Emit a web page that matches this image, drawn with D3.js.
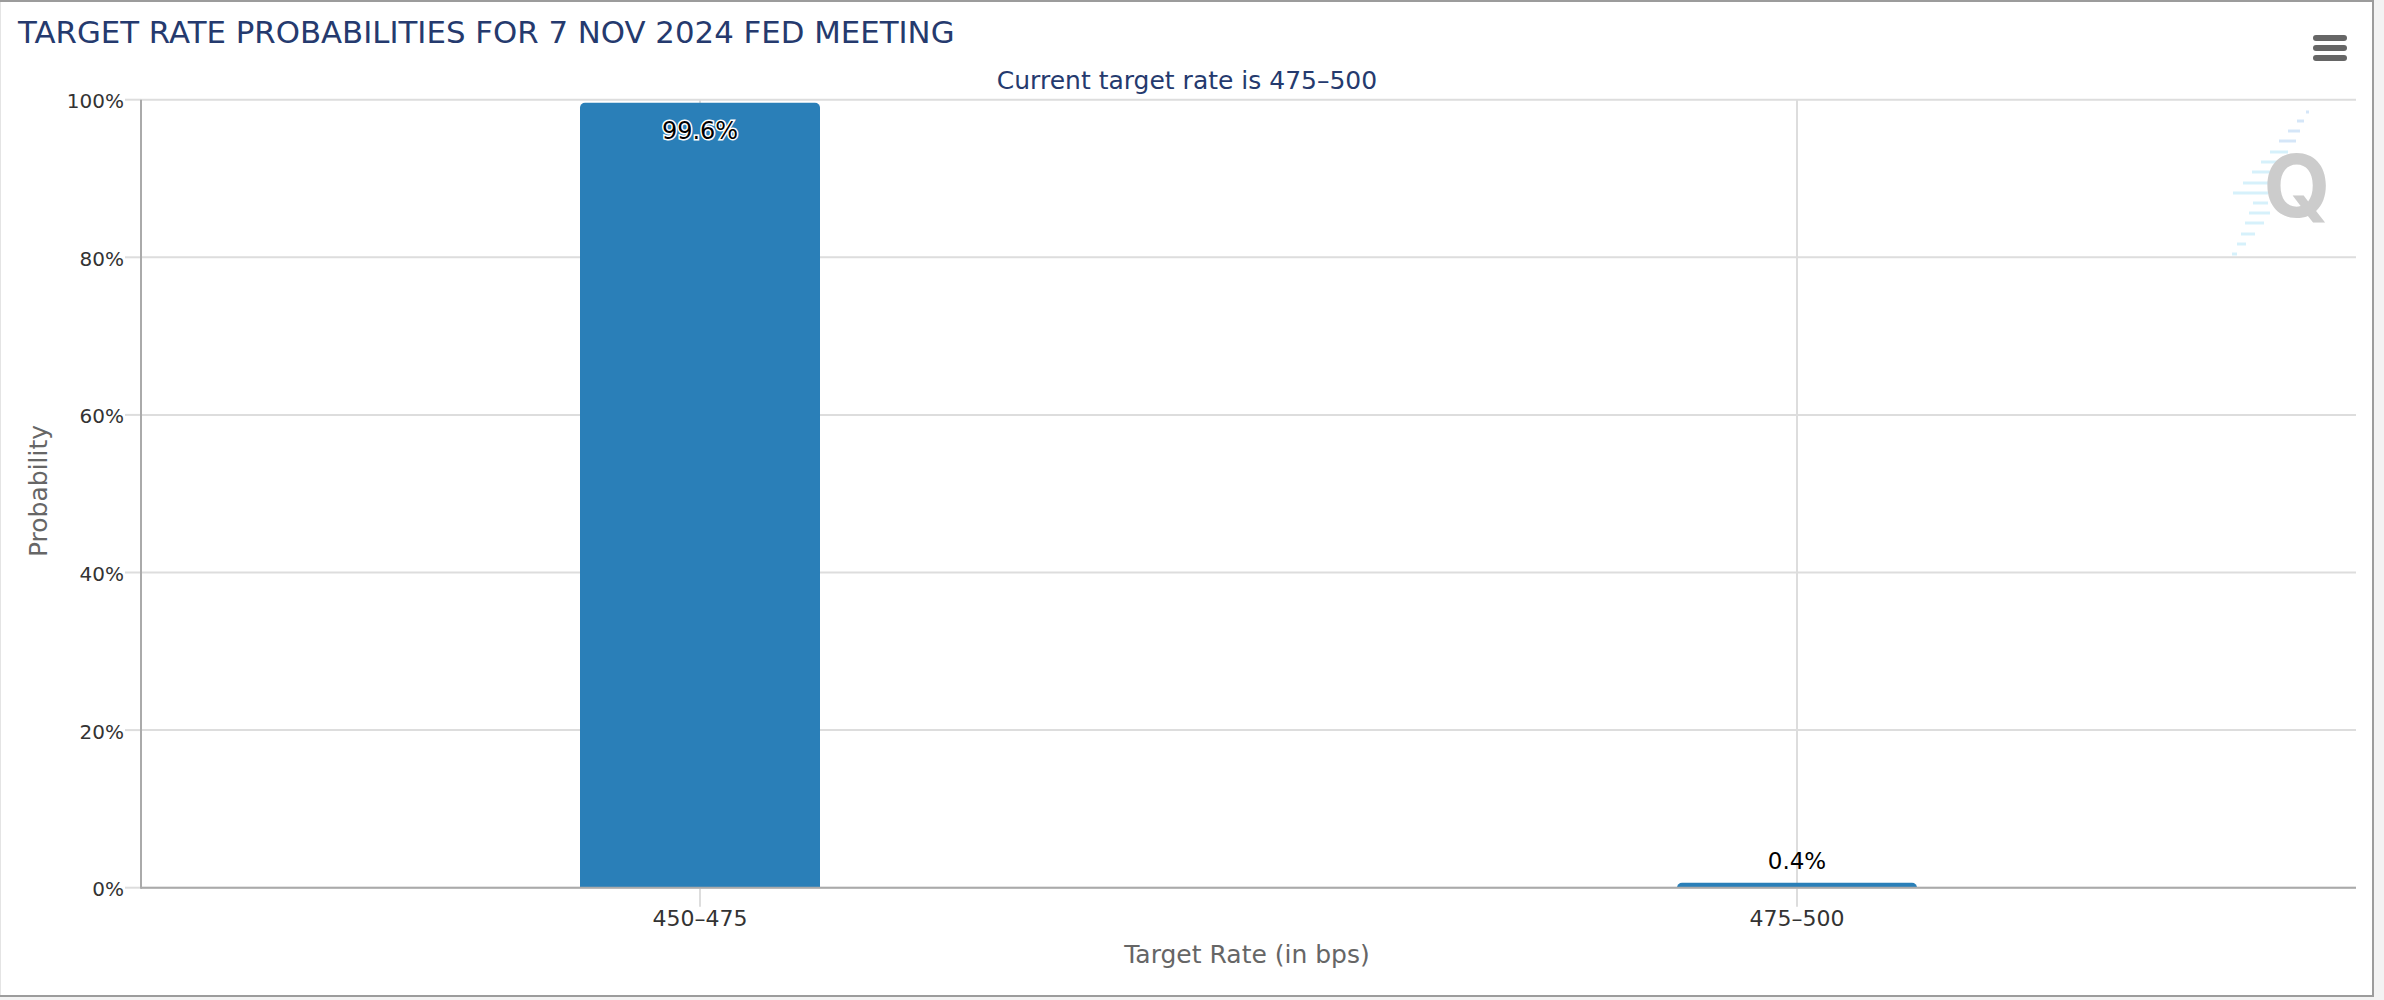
<!DOCTYPE html>
<html>
<head>
<meta charset="utf-8">
<script src="https://cdn.jsdelivr.net/npm/d3@7"></script>
<style>
  html, body { margin: 0; padding: 0; background: #f3f3f3; }
  svg { display: block; }
  text { font-family: "DejaVu Sans", sans-serif; }
</style>
</head>
<body>
<svg></svg>
<script>
let categories = ['450\u2013475', '475\u2013500'];
let probabilities = [99.6, 0.4];
let valueLabels = ['99.6%', '0.4%'];
let yTicks = [0, 20, 40, 60, 80, 100];

let width = 2384;
let height = 1000;
let plotLeft = 141;
let plotRight = 2356;
let plotTop = 99.7;
let plotBottom = 887.7;
let barWidth = 240;
let minBarHeight = 5;

let svg = d3.select('svg')
    .attr('width', width)
    .attr('height', height);

// x positions sit inside the plot with Highcharts style edge padding
let xScale = d3.scalePoint()
    .domain(categories)
    .range([700, 1797]);

let yScale = d3.scaleLinear()
    .domain([0, 100])
    .range([plotBottom, plotTop]);

let drawFrame = () => {
    svg.append('rect')
        .attr('x', 0.5)
        .attr('y', 1)
        .attr('width', 2372.5)
        .attr('height', 995)
        .attr('fill', '#fff')
        .attr('stroke', '#e4e4e4')
        .attr('stroke-width', 1);
    svg.append('path')
        .attr('d', 'M0,1H2373V996H0')
        .attr('fill', 'none')
        .attr('stroke', '#9c9c9c')
        .attr('stroke-width', 2);
};

let drawAxes = () => {
    let yGrid = d3.axisLeft(yScale)
        .tickValues(yTicks)
        .tickSize(-(plotRight - plotLeft))
        .offset(0)
        .tickFormat('');
    let gridGroup = svg.append('g')
        .attr('transform', 'translate(' + plotLeft + ',0)')
        .call(yGrid);
    gridGroup.select('.domain').remove();
    gridGroup.selectAll('line').attr('stroke', '#dddddd').attr('stroke-width', 2);

    let yAxis = d3.axisLeft(yScale)
        .tickValues(yTicks)
        .tickSize(16)
        .tickPadding(1)
        .offset(0)
        .tickFormat((d) => d + '%');
    let yGroup = svg.append('g')
        .attr('transform', 'translate(' + plotLeft + ',0)')
        .call(yAxis);
    yGroup.select('.domain').remove();
    yGroup.selectAll('line').attr('stroke', '#dddddd').attr('stroke-width', 2);
    yGroup.selectAll('text')
        .attr('font-size', 20)
        .attr('fill', '#333')
        .attr('dy', 8.5);

    let xAxis = d3.axisBottom(xScale)
        .tickSize(19)
        .tickPadding(0)
        .offset(0)
        .tickFormat((d) => d);
    let xGroup = svg.append('g')
        .attr('transform', 'translate(0,' + plotBottom + ')')
        .call(xAxis);
    xGroup.select('.domain').remove();
    xGroup.selectAll('line')
        .attr('y1', -(plotBottom - plotTop))
        .attr('stroke', '#dddddd')
        .attr('stroke-width', 2);
    xGroup.selectAll('text')
        .attr('y', 38)
        .attr('dy', 0)
        .attr('font-size', 22)
        .attr('fill', '#333');
};

let topRoundedBar = (x, y, w, h, r) => {
    let p = d3.path();
    p.moveTo(x, y + h);
    p.lineTo(x, y + r);
    p.arcTo(x, y, x + r, y, r);
    p.lineTo(x + w - r, y);
    p.arcTo(x + w, y, x + w, y + r, r);
    p.lineTo(x + w, y + h);
    p.closePath();
    return p.toString();
};

let drawBars = () => {
    svg.selectAll('.bar')
        .data(probabilities)
        .enter()
        .append('path')
        .attr('class', 'bar')
        .attr('fill', '#2a7fb8')
        .attr('d', (item, i) => {
            let barHeight = Math.max(plotBottom - yScale(item), minBarHeight);
            return topRoundedBar(xScale(categories[i]) - barWidth / 2, plotBottom - barHeight, barWidth, barHeight, 5);
        });

    // baseline goes over the bars
    svg.append('line')
        .attr('x1', plotLeft)
        .attr('x2', plotRight)
        .attr('y1', plotBottom)
        .attr('y2', plotBottom)
        .attr('stroke', '#aaaaaa')
        .attr('stroke-width', 2);
    svg.append('line')
        .attr('x1', plotLeft)
        .attr('x2', plotLeft)
        .attr('y1', plotTop)
        .attr('y2', plotBottom + 1)
        .attr('stroke', '#aaaaaa')
        .attr('stroke-width', 2);

    svg.selectAll('.bar-label')
        .data(probabilities)
        .enter()
        .append('text')
        .attr('class', 'bar-label')
        .attr('text-anchor', 'middle')
        .attr('x', (item, i) => xScale(categories[i]))
        .attr('y', (item) => item > 50 ? yScale(item) + 36 : yScale(item) - 16)
        .attr('font-size', (item) => item > 50 ? 24 : 23)
        .attr('fill', '#000')
        .attr('stroke', (item) => item > 50 ? '#fff' : 'none')
        .attr('stroke-width', 3)
        .attr('paint-order', 'stroke')
        .text((item, i) => valueLabels[i]);
};

let drawTitles = () => {
    svg.append('text')
        .attr('x', 18)
        .attr('y', 43)
        .attr('font-size', 30.8)
        .attr('fill', '#253a6e')
        .text('TARGET RATE PROBABILITIES FOR 7 NOV 2024 FED MEETING');
    svg.append('text')
        .attr('x', 1187)
        .attr('y', 89)
        .attr('text-anchor', 'middle')
        .attr('font-size', 25)
        .attr('fill', '#253a6e')
        .text('Current target rate is 475\u2013500');
    svg.append('text')
        .attr('transform', 'translate(47,491) rotate(-90)')
        .attr('text-anchor', 'middle')
        .attr('font-size', 25)
        .attr('fill', '#666')
        .text('Probability');
    svg.append('text')
        .attr('x', 1247)
        .attr('y', 963)
        .attr('text-anchor', 'middle')
        .attr('font-size', 25)
        .attr('fill', '#666')
        .text('Target Rate (in bps)');
};

let drawMenu = () => {
    [38, 48, 58].forEach((y) => {
        svg.append('line')
            .attr('x1', 2316)
            .attr('x2', 2344)
            .attr('y1', y)
            .attr('y2', y)
            .attr('stroke', '#666')
            .attr('stroke-width', 6)
            .attr('stroke-linecap', 'round');
    });
};

let drawWatermark = () => {
    let stripes = [
        [2306, 2309, 112], [2297, 2304, 121], [2288, 2300, 131], [2279, 2296, 141],
        [2270, 2288, 152], [2261, 2278, 162], [2252, 2270, 172], [2243, 2268, 183],
        [2233, 2268, 193], [2253, 2268, 203], [2249, 2270, 213], [2245, 2264, 223],
        [2241, 2255, 234], [2237, 2246, 244], [2232, 2237, 254]
    ];
    svg.selectAll('.stripe')
        .data(stripes)
        .enter()
        .append('line')
        .attr('class', 'stripe')
        .attr('x1', (d) => d[0])
        .attr('x2', (d) => d[1])
        .attr('y1', (d) => d[2])
        .attr('y2', (d) => d[2])
        .attr('stroke', (d) => d[2] < 150 ? '#d5e6f8' : '#d6f1fb')
        .attr('stroke-width', 3);
    svg.append('text')
        .attr('x', 2297)
        .attr('y', 217)
        .attr('text-anchor', 'middle')
        .attr('font-size', 86)
        .attr('font-weight', 700)
        .attr('fill', '#cccccc')
        .style('font-family', 'Inter, sans-serif')
        .text('Q');
};

drawFrame();
drawWatermark();
drawAxes();
drawBars();
drawTitles();
drawMenu();
</script>
</body>
</html>
